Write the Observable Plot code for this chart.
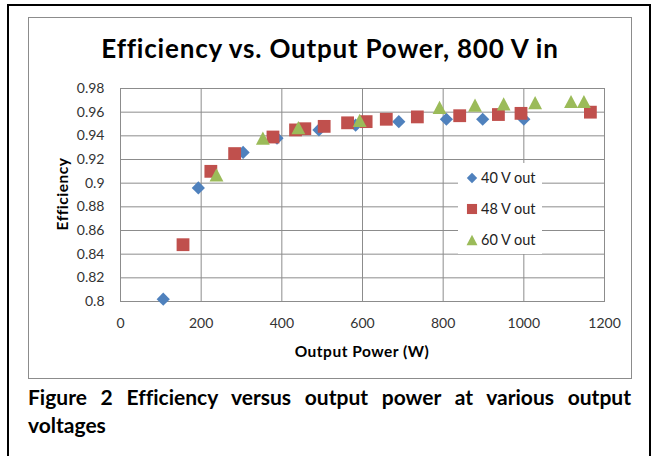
<!DOCTYPE html>
<html><head><meta charset="utf-8">
<script src="https://cdn.jsdelivr.net/npm/d3@7"></script>
<script src="https://cdn.jsdelivr.net/npm/@observablehq/plot@0.6"></script>
<style>
body{margin:0;background:#fff;font-family:Lato,"Open Sans",sans-serif;font-variant-ligatures:none;}
#page{position:relative;width:652px;height:456px;overflow:hidden;}
#outer{position:absolute;left:7px;top:4px;width:640px;height:500px;border:2px solid #000;}
#box{position:absolute;left:28px;top:17px;width:602px;height:360px;border:1px solid #8c8c8c;}
#title{position:absolute;left:28px;width:604px;top:33px;line-height:30px;text-align:center;font-weight:bold;font-size:26px;letter-spacing:0.8px;color:#000;}
#chart{position:absolute;left:28px;top:70px;}
#xlab{position:absolute;left:242px;width:240px;top:342px;line-height:18px;text-align:center;font-weight:bold;font-size:15.5px;letter-spacing:0.5px;color:#000;}
#ylab{position:absolute;left:62px;top:194px;transform:translate(-50%,-50%) rotate(-90deg);font-weight:bold;font-size:15.5px;letter-spacing:0.5px;white-space:nowrap;color:#000;}
#legend{position:absolute;left:458px;top:163px;width:84px;height:91px;background:#fff;}
.li{position:absolute;left:0;height:20px;width:84px;font-size:14.5px;color:#222;}
.li svg{position:absolute;left:7px;top:3px;}
.li span{position:absolute;left:23px;top:0;line-height:20px;}
#caption{position:absolute;left:28px;width:603px;top:383px;font-weight:bold;font-size:21px;line-height:28px;color:#000;}
#caption .l1{text-align:justify;text-align-last:justify;white-space:normal;}
#caption .l2{text-align:left;}
</style></head>
<body>
<div id="page">
  <div id="outer"></div>
  <div id="box"></div>
  <div id="title">Efficiency vs. Output Power, 800 V in</div>
  <div id="chart"></div>
  <div id="xlab">Output Power (W)</div>
  <div id="ylab">Efficiency</div>
  <div id="legend"></div>
  <div id="caption"><div class="l1">Figure 2 Efficiency versus output power at various output</div><div class="l2">voltages</div></div>
</div>
<script>
const seriesNames = ["40 V out", "48 V out", "60 V out"];
const seriesColors = ["#4F81BD", "#C0504D", "#9BBB59"];

const power40 = [106, 193, 304, 388, 492, 583, 690, 808, 898, 1000];
const eff40   = [0.802, 0.896, 0.926, 0.938, 0.945, 0.949, 0.952, 0.954, 0.954, 0.954];

const power48 = [155, 224, 283, 378, 434, 457, 505, 563, 609, 659, 736, 841, 937, 993, 1165];
const eff48   = [0.848, 0.910, 0.925, 0.939, 0.945, 0.946, 0.948, 0.951, 0.952, 0.954, 0.956, 0.957, 0.958, 0.959, 0.960];

const power60 = [238, 353, 441, 593, 791, 879, 950, 1028, 1117, 1149];
const eff60   = [0.907, 0.938, 0.947, 0.953, 0.964, 0.966, 0.967, 0.968, 0.969, 0.969];

const xTicks = [0, 200, 400, 600, 800, 1000, 1200];
const yTicks = [0.8, 0.82, 0.84, 0.86, 0.88, 0.9, 0.92, 0.94, 0.96, 0.98];

// custom marker shapes (centered on bounding box)
const diamond = {draw(ctx, size){ const r = Math.sqrt(size/Math.PI); ctx.moveTo(0,-r); ctx.lineTo(r,0); ctx.lineTo(0,r); ctx.lineTo(-r,0); ctx.closePath(); }};
const square  = {draw(ctx, size){ const r = Math.sqrt(size/Math.PI)*0.97; ctx.moveTo(-r,-r); ctx.lineTo(r,-r); ctx.lineTo(r,r); ctx.lineTo(-r,r); ctx.closePath(); }};
const triangle= {draw(ctx, size){ const r = Math.sqrt(size/Math.PI); ctx.moveTo(0,-r); ctx.lineTo(r*1.05,r); ctx.lineTo(-r*1.05,r); ctx.closePath(); }};
const shapes = [diamond, square, triangle];

const rows = [];
[[power40, eff40], [power48, eff48], [power60, eff60]].forEach(([p, e], i) => {
  p.forEach((v, j) => rows.push({series: seriesNames[i], power: v, eff: e[j]}));
});

const chart = Plot.plot({
  width: 603, height: 305,
  marginLeft: 92, marginRight: 27, marginTop: 18, marginBottom: 74,
  style: {fontFamily: "Lato, 'Open Sans', sans-serif", fontSize: "14px", color: "#333", background: "transparent"},
  x: {domain: [0, 1200], ticks: xTicks, tickSize: 0, tickPadding: 17, label: null, tickFormat: d => String(d)},
  y: {domain: [0.8, 0.98], ticks: yTicks, tickSize: 0, tickPadding: 16, label: null, tickFormat: d => String(+d.toFixed(2))},
  symbol: {domain: seriesNames, range: shapes},
  color: {domain: seriesNames, range: seriesColors},
  marks: [
    Plot.ruleX(xTicks, {stroke: "#8c8c8c", strokeWidth: 1}),
    Plot.ruleY(yTicks, {stroke: "#8c8c8c", strokeWidth: 1}),
    Plot.frame({stroke: "#8c8c8c"}),
    Plot.dot(rows, {x: "power", y: "eff", symbol: "series", fill: "series", r: 6.6, stroke: "none"})
  ]
});
document.getElementById("chart").appendChild(chart);

// legend
const legend = document.getElementById("legend");
seriesNames.forEach((name, i) => {
  const div = document.createElement("div");
  div.className = "li";
  div.style.top = (5 + i * 31) + "px";
  const svg = d3.create("svg").attr("width", 14).attr("height", 14);
  svg.append("path").attr("transform", "translate(7,7)")
    .attr("d", d3.symbol(shapes[i], Math.PI * 5.2 * 5.2)())
    .attr("fill", seriesColors[i]);
  div.appendChild(svg.node());
  const span = document.createElement("span");
  span.textContent = name;
  div.appendChild(span);
  legend.appendChild(div);
});
</script>
</body></html>
